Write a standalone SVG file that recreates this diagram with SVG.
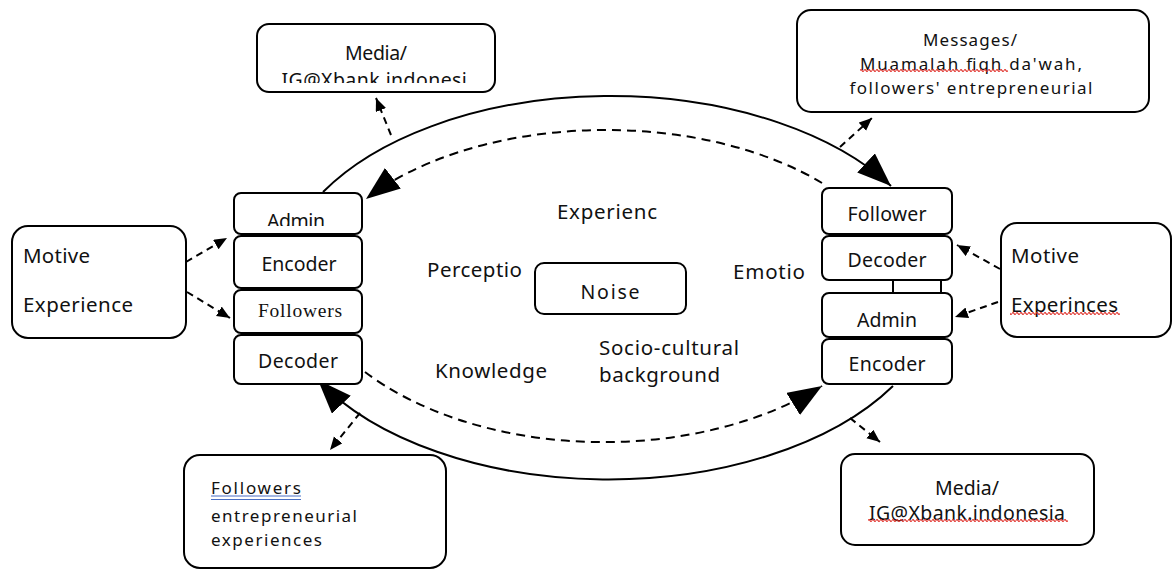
<svg xmlns="http://www.w3.org/2000/svg" width="1172" height="570" viewBox="0 0 1172 570">
<style>
.box{fill:#fff;stroke:#000;stroke-width:2}
.t{font-family:'Noto Sans','Open Sans',sans-serif;font-size:19.5px;fill:#111}
.c{text-anchor:middle}
.m{font-size:20.5px}
.s{font-size:17px}
.serif{font-family:'Liberation Serif',serif}
.solid{fill:none;stroke:#000;stroke-width:2}
.dash{fill:none;stroke:#000;stroke-width:2;stroke-dasharray:9 6}
.sd{stroke-dasharray:7 5}
.wavy{fill:url(#wave)}
</style>
<defs>
<marker id="big" markerUnits="userSpaceOnUse" markerWidth="36" markerHeight="28" refX="34" refY="13" orient="auto">
<path d="M0,0 L34,13 L0,26 Z" fill="#000" stroke="none"/>
</marker>
<marker id="small" markerUnits="userSpaceOnUse" markerWidth="14" markerHeight="12" refX="13" refY="5.5" orient="auto">
<path d="M0,0 L13,5.5 L0,11 Z" fill="#000" stroke="none"/>
</marker>
<pattern id="wave" x="0" y="0" width="4" height="3" patternUnits="userSpaceOnUse">
<path d="M0,1.5 Q1,-0.3 2,1.5 T4,1.5" fill="none" stroke="#e0302a" stroke-width="1.2"/>
</pattern>
<clipPath id="clipMedia"><rect x="258" y="25" width="236" height="58"/></clipPath>
<clipPath id="clipAdmin"><rect x="235" y="194" width="126" height="32"/></clipPath>
</defs>

<g id="connectors">
<path class="solid" d="M 323 192 A 331 191 0 0 1 891 186" marker-end="url(#big)"/>
<path class="solid" d="M 893 386 A 331 191 0 0 1 318 380" marker-end="url(#big)"/>
<path class="dash" d="M 822 183 A 298 170 0 0 0 366 199" marker-end="url(#big)"/>
<path class="dash" d="M 365 372 A 309 192 0 0 0 822 386" marker-end="url(#big)"/>
<line class="dash sd" x1="391" y1="135" x2="376" y2="98" marker-end="url(#small)"/>
<line class="dash sd" x1="840" y1="147" x2="872" y2="118" marker-end="url(#small)"/>
<line class="dash sd" x1="186" y1="262" x2="227" y2="238" marker-end="url(#small)"/>
<line class="dash sd" x1="187" y1="292" x2="230" y2="318" marker-end="url(#small)"/>
<line class="dash sd" x1="1000" y1="269" x2="957" y2="245" marker-end="url(#small)"/>
<line class="dash sd" x1="998" y1="302" x2="955" y2="317" marker-end="url(#small)"/>
<line class="dash sd" x1="360" y1="413" x2="330" y2="450" marker-end="url(#small)"/>
<line class="dash sd" x1="850" y1="418" x2="880" y2="442" marker-end="url(#small)"/>
<line x1="893" y1="280" x2="893" y2="293" stroke="#000" stroke-width="2"/>
<line x1="941" y1="280" x2="941" y2="293" stroke="#000" stroke-width="2"/>
</g>

<g id="media-top">
<rect class="box" x="257" y="24" width="238" height="68" rx="12"/>
<text class="t c" x="376" y="60" textLength="62">Media/</text>
<g clip-path="url(#clipMedia)"><text class="t c" x="377" y="87" textLength="191">IG@Xbank.indonesi.</text></g>
</g>

<g id="messages">
<rect class="box" x="797" y="10" width="352" height="102" rx="14"/>
<text class="t c s" x="970" y="46" textLength="94">Messages/</text>
<text class="t c s" x="971" y="70" textLength="222">Muamalah fiqh da'wah,</text>
<rect class="wavy" x="860" y="69" width="148" height="3"/>
<text class="t c s" x="971" y="94" textLength="243">followers' entrepreneurial</text>
</g>

<g id="motive-left">
<rect class="box" x="12" y="226" width="174" height="112" rx="16"/>
<text class="t m" x="23" y="263" textLength="67">Motive</text>
<text class="t m" x="23" y="312" textLength="110">Experience</text>
</g>

<g id="left-admin">
<rect class="box" x="234" y="193" width="128" height="41" rx="7"/>
<g clip-path="url(#clipAdmin)"><text class="t c" x="296" y="228" textLength="58">Admin</text></g>
</g>
<g id="left-encoder">
<rect class="box" x="234" y="236" width="128" height="52" rx="7"/>
<text class="t c" x="299" y="271" textLength="75">Encoder</text>
</g>
<g id="left-followers">
<rect class="box" x="234" y="290" width="128" height="43" rx="7"/>
<text class="t c serif" x="300" y="317" font-size="19" textLength="84">Followers</text>
</g>
<g id="left-decoder">
<rect class="box" x="234" y="335" width="128" height="49" rx="7"/>
<text class="t c" x="298" y="368" textLength="80">Decoder</text>
</g>

<g id="right-follower">
<rect class="box" x="822" y="188" width="130" height="46" rx="7"/>
<text class="t c" x="887" y="221" textLength="79">Follower</text>
</g>
<g id="right-decoder">
<rect class="box" x="822" y="236" width="130" height="44" rx="7"/>
<text class="t c" x="887" y="267" textLength="79">Decoder</text>
</g>
<g id="right-admin">
<rect class="box" x="822" y="293" width="130" height="44" rx="7"/>
<text class="t c" x="887" y="327" textLength="60">Admin</text>
</g>
<g id="right-encoder">
<rect class="box" x="822" y="339" width="130" height="45" rx="7"/>
<text class="t c" x="887" y="371" textLength="77">Encoder</text>
</g>

<g id="motive-right">
<rect class="box" x="1001" y="223" width="170" height="114" rx="16"/>
<text class="t m" x="1011" y="263" textLength="68">Motive</text>
<text class="t m" x="1011" y="312" textLength="107">Experinces</text>
<rect class="wavy" x="1010" y="312" width="110" height="3"/>
</g>

<g id="noise">
<rect class="box" x="535" y="263" width="151" height="51" rx="9"/>
<text class="t c" x="610" y="299" font-size="22" textLength="59">Noise</text>
</g>

<g id="labels">
<text class="t m" x="557" y="219" textLength="100">Experienc</text>
<text class="t m" x="427" y="277" textLength="95">Perceptio</text>
<text class="t m" x="733" y="279" textLength="72">Emotio</text>
<text class="t m" x="435" y="378" textLength="112">Knowledge</text>
<text class="t m" x="599" y="355" textLength="140">Socio-cultural</text>
<text class="t m" x="599" y="382" textLength="121">background</text>
</g>

<g id="followers-exp">
<rect class="box" x="184" y="455" width="262" height="113" rx="16"/>
<text class="t s" x="211" y="494" textLength="90">Followers</text>
<line x1="211" y1="496" x2="301" y2="496" stroke="#4a6fc4" stroke-width="1"/>
<line x1="211" y1="499.5" x2="301" y2="499.5" stroke="#4a6fc4" stroke-width="1"/>
<text class="t s" x="211" y="522" textLength="146">entrepreneurial</text>
<text class="t s" x="211" y="546" textLength="111">experiences</text>
</g>

<g id="media-bottom">
<rect class="box" x="841" y="454" width="253" height="91" rx="14"/>
<text class="t c" x="967" y="495" font-size="18" textLength="64">Media/</text>
<text class="t c" x="967" y="520" font-size="18" textLength="196">IG@Xbank.indonesia</text>
<rect class="wavy" x="868" y="519" width="200" height="3"/>
</g>
</svg>
